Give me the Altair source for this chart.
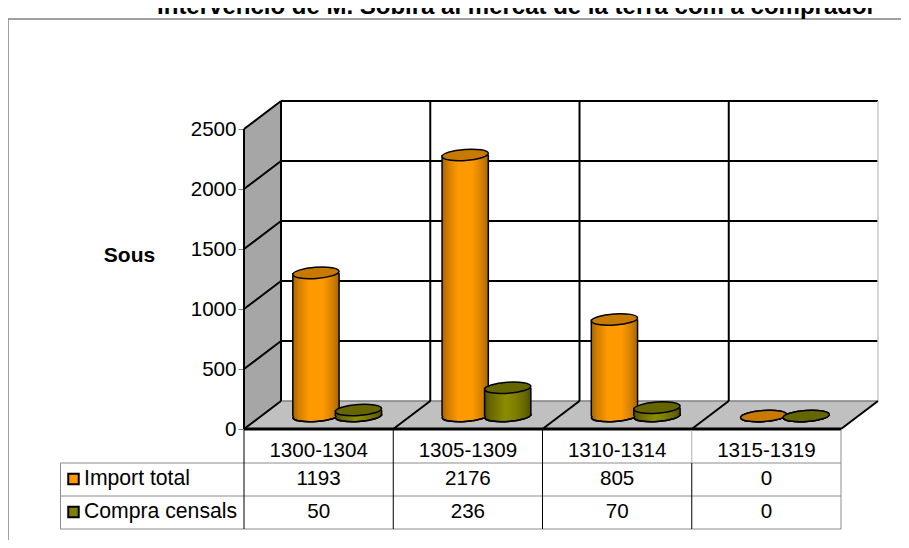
import altair as alt
import pandas as pd

# ---- values ----
categories = ["1300-1304", "1305-1309", "1310-1314", "1315-1319"]
import_total = [1193, 2176, 805, 0]
compra_censals = [50, 236, 70, 0]
series_names = ["Import total", "Compra censals"]
y_ticks = [0, 500, 1000, 1500, 2000, 2500]
title_text = "Intervenció de M. Sobira al mercat de la terra com a comprador"
y_title = "Sous"

# ---- layout / style ----
FONT = "Liberation Sans"
W, H = 597, 300
DX, DY = 0.248, 233          # depth of the 3D box, in data units
BASE = 108                   # height of cylinder base on the floor, in data units
BAR_W = 0.31
CENTERS = [0.482, 0.767]
ELLIPSE_SIZE = 46.3 ** 2
K, B = 0.5523, 0.24
kb = K * B
ELLIPSE = (f"M -1 0 C -1 {-kb} {-K} {-B} 0 {-B} C {K} {-B} 1 {-kb} 1 0 "
           f"C 1 {kb} {K} {B} 0 {B} C {-K} {B} -1 {kb} -1 0 Z")
LOWER_ARC = f"M -1 0 C -1 {kb} {-K} {B} 0 {B} C {K} {B} 1 {kb} 1 0"


def grad(stops):
    return alt.Gradient(
        gradient="linear", x1=0, x2=1, y1=0, y2=0,
        stops=[alt.GradientStop(offset=o, color=c) for o, c in stops],
    )


ORANGE = grad([(0, "#a86400"), (0.12, "#cf7d00"), (0.35, "#ff9900"), (0.65, "#ff9900"), (0.88, "#cf7d00"), (1, "#a86400")])
GREEN = grad([(0, "#4d4d00"), (0.12, "#666600"), (0.45, "#8c8c00"), (0.65, "#808000"), (0.88, "#666600"), (1, "#4d4d00")])
TOPS = ["#c87a00", "#666600"]
KEYS = ["#ff9900", "#808000"]
GRADS = [ORANGE, GREEN]

xs = alt.Scale(domain=[0, 4], nice=False, zero=False)
ys = alt.Scale(domain=[0, 2500], nice=False, zero=False)
Y_AXIS = alt.Axis(
    values=y_ticks, format="d", domain=False, grid=False, tickColor="#808080", tickSize=6,
    labelFont=FONT, labelFontSize=20.6, labelColor="black", labelPadding=2,
    title=y_title, titleAngle=0, titleFont=FONT, titleFontSize=21, titleFontWeight="bold",
    titleColor="black", titleX=-115, titleY=126, titleAlign="center", titleBaseline="middle",
)


def X(f):
    return alt.X(f"{f}:Q", scale=xs, axis=None, title=None)


def Y(f):
    return alt.Y(f"{f}:Q", scale=ys, axis=Y_AXIS, title=y_title)


def X2(f):
    return alt.X2(f"{f}:Q")


def Y2(f):
    return alt.Y2(f"{f}:Q")


def seg(rows, color="black", width=2):
    """Straight segments in data space."""
    return alt.Chart(pd.DataFrame(rows, columns=["a", "b", "c", "d"])).mark_rule(
        color=color, strokeWidth=width
    ).encode(x=X("a"), x2=X2("c"), y=Y("b"), y2=Y2("d"))


def pixel_rule(x0, x1, y0, y1, color, width=1):
    return alt.Chart(pd.DataFrame({"k": [0]})).mark_rule(color=color, strokeWidth=width).encode(
        x=alt.value(x0), x2=alt.value(x1), y=alt.value(y0), y2=alt.value(y1)
    )


def pixel_text(text, x, y, size, align="center", weight="normal", baseline="middle"):
    return alt.Chart(pd.DataFrame({"t": [text]})).mark_text(
        font=FONT, fontSize=size, fontWeight=weight, align=align, baseline=baseline, color="black"
    ).encode(text="t:N", x=alt.value(x), y=alt.value(y))


layers = []

# outer chart frame
layers.append(pixel_rule(-236, 665, -110, -110, "#808080", 1.5))
layers.append(pixel_rule(-236, -236, -110, 419, "#808080", 1.5))

# side wall
side = pd.DataFrame({"x": [0, DX], "lo": [0, DY], "hi": [2500, 2500 + DY]})
layers.append(alt.Chart(side).mark_area(fill="#a6a6a6", opacity=1).encode(x=X("x"), y=Y("hi"), y2=Y2("lo")))
# floor
floor = pd.DataFrame({"v": [0, DY], "x": [0, DX], "x2": [4, 4 + DX]})
layers.append(alt.Chart(floor).mark_area(fill="#c0c0c0", opacity=1, orient="horizontal").encode(
    y=Y("v"), x=X("x"), x2=X2("x2")))

# back wall
layers.append(seg([(DX, v + DY, 4 + DX, v + DY) for v in y_ticks if v > 0]))
layers.append(seg([(DX, DY, 4 + DX, DY)], "#808080", 1.5))
layers.append(seg([(i + DX, DY, i + DX, 2500 + DY) for i in range(4)]))
layers.append(seg([(4 + DX, DY, 4 + DX, 2500 + DY)], "#c8c8c8", 1.5))
# side wall edges and floor edges
layers.append(seg([(0, v, DX, v + DY) for v in y_ticks]))
layers.append(seg([(0, 0, 0, 2500)]))
layers.append(seg([(i, 0, i + DX, DY) for i in range(1, 5)]))
layers.append(seg([(0, 0, 4, 0)], "black", 3))

# cylinders
for s, values in enumerate([import_total, compra_censals]):
    df = pd.DataFrame({
        "c": [i + CENTERS[s] for i in range(4)],
        "l": [i + CENTERS[s] - BAR_W / 2 for i in range(4)],
        "r": [i + CENTERS[s] + BAR_W / 2 for i in range(4)],
        "base": [BASE] * 4,
        "top": [v + BASE for v in values],
    })
    base = alt.Chart(df)
    layers.append(base.mark_point(shape=ELLIPSE, size=ELLIPSE_SIZE, filled=True, fill=GRADS[s], stroke="black",
                                  strokeWidth=1.5, opacity=1, angle=356).encode(x=X("c"), y=Y("base")))
    layers.append(base.mark_rect(fill=GRADS[s]).encode(x=X("l"), x2=X2("r"), y=Y("top"), y2=Y2("base")))
    layers.append(base.mark_point(shape=LOWER_ARC, size=ELLIPSE_SIZE, filled=False, stroke="black",
                                  strokeWidth=1.5, opacity=1, angle=356).encode(x=X("c"), y=Y("base")))
    layers.append(base.mark_rule(color="black", strokeWidth=1.5).encode(x=X("l"), y=Y("top"), y2=Y2("base")))
    layers.append(base.mark_rule(color="black", strokeWidth=1.5).encode(x=X("r"), y=Y("top"), y2=Y2("base")))
    layers.append(base.mark_point(shape=ELLIPSE, size=ELLIPSE_SIZE, filled=True, fill=TOPS[s], stroke="black",
                                  strokeWidth=1.5, opacity=1, angle=356).encode(x=X("c"), y=Y("top")))

# data table
ROW_LINES = [334, 367, 400]
for yy in ROW_LINES:
    layers.append(pixel_rule(-183.5, W, yy, yy, "#8c8c8c", 1))
layers.append(pixel_rule(-183.5, -183.5, 334, 400, "#8c8c8c", 1))
layers.append(pixel_rule(W, W, 301, 400, "#8c8c8c", 1))
for i in range(4):
    px = W * i / 4
    top = 301 if i < 3 else 334
    layers.append(pixel_rule(px, px, top, 400, "black", 1))
layers.append(pixel_rule(W * 3 / 4, W * 3 / 4, 301, 334, "#b0b0b0", 1))

table = pd.DataFrame({
    "x": [i + 0.5 for i in range(4)],
    "cat": categories,
    "a": [str(v) for v in import_total],
    "b": [str(v) for v in compra_censals],
})
tb = alt.Chart(table)
for field, yy in [("cat", 322), ("a", 350), ("b", 383)]:
    layers.append(tb.mark_text(font=FONT, fontSize=20.6, color="black", align="center", baseline="middle").encode(
        x=X("x"), y=alt.value(yy), text=f"{field}:N"))

for s, name in enumerate(series_names):
    yy = 350 if s == 0 else 383
    layers.append(pixel_text(name, -160, yy, 21.2, align="left"))
    layers.append(alt.Chart(pd.DataFrame({"k": [0]})).mark_point(
        shape="square", size=110, filled=True, fill=KEYS[s], stroke="black", strokeWidth=2, opacity=1
    ).encode(x=alt.value(-170.5), y=alt.value(yy)))

# title, cut off at the top of the page as in the reference
layers.append(pixel_text(title_text, 272.5, -115, 24, weight="bold", baseline="alphabetic"))

chart = alt.layer(*layers).properties(
    width=W, height=H,
    padding={"left": 236, "top": 121, "right": 60, "bottom": 111},
    autosize=alt.AutoSizeParams(type="none"),
    background="white",
).configure_view(stroke=None)

chart.save("out.html", embed_options={"renderer": "svg", "actions": False})
